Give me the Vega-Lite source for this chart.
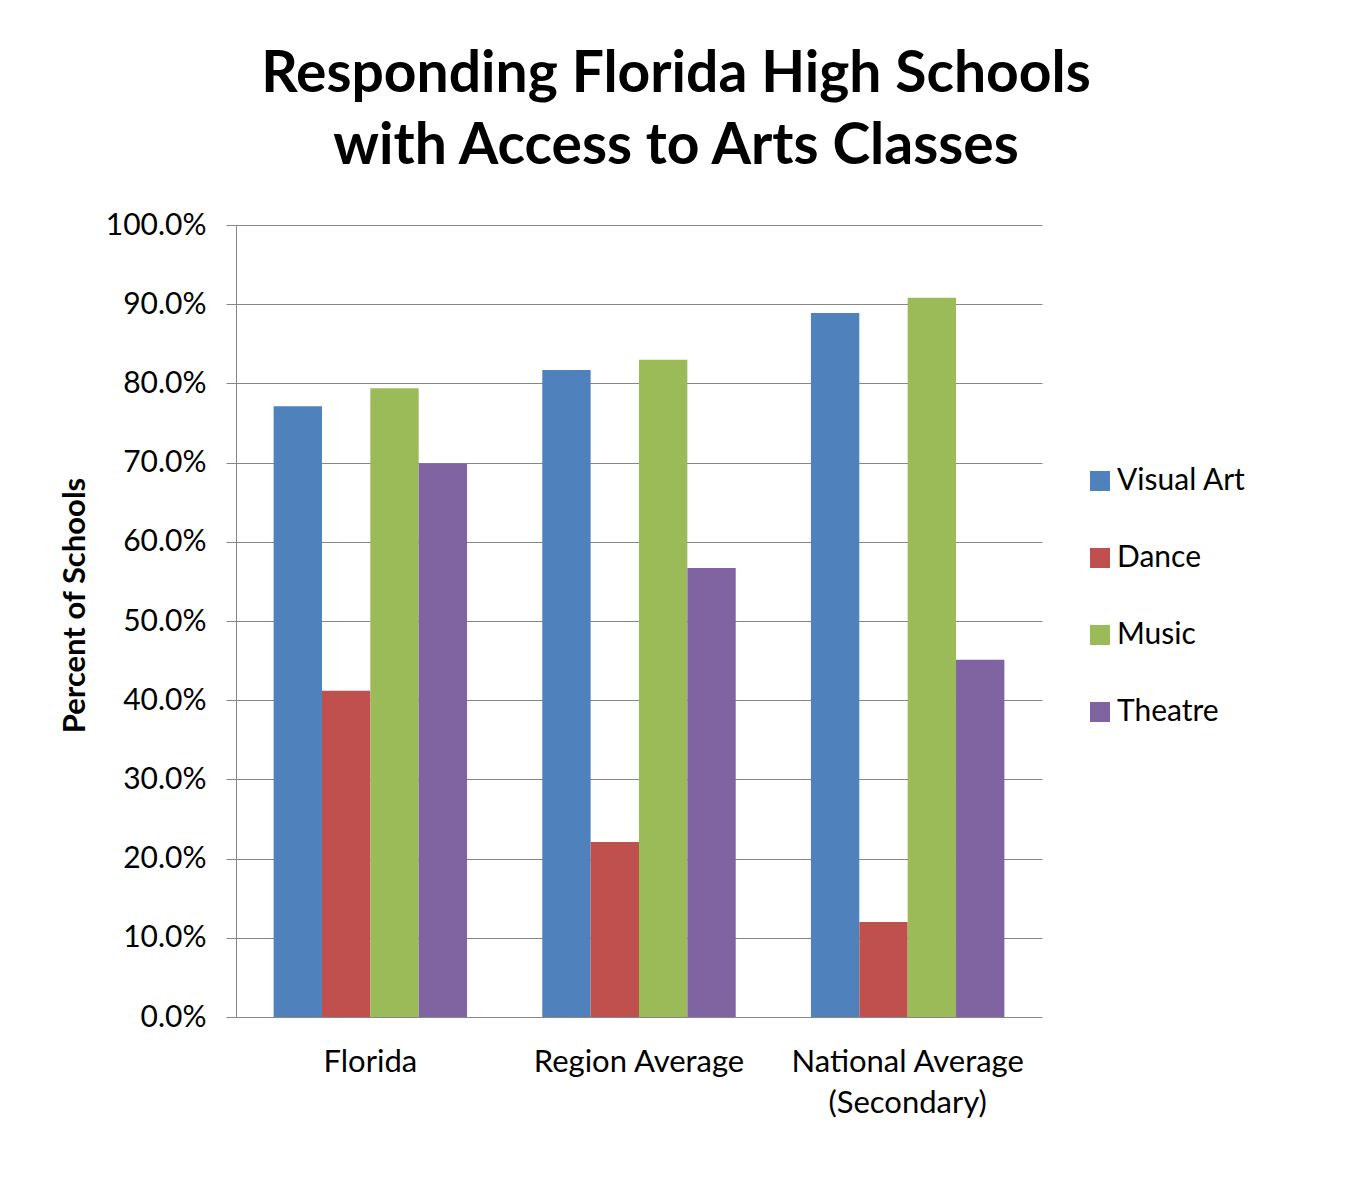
{
  "$schema": "https://vega.github.io/schema/vega-lite/v6.json",
  "width": 806,
  "height": 792,
  "autosize": "none",
  "padding": {"left": 236, "top": 225, "right": 308, "bottom": 167},
  "background": "white",
  "config": {"view": {"stroke": null}, "font": "Lato"},
  "title": {
    "text": ["Responding Florida High Schools", "with Access to Arts Classes"],
    "fontSize": 57,
    "fontWeight": "bold",
    "font": "Lato",
    "color": "black",
    "lineHeight": 72,
    "anchor": "middle",
    "dx": 37,
    "offset": 34
  },
  "data": {
    "values": [
      {"region": "Florida", "subject": "Visual Art", "pct": 0.771},
      {"region": "Florida", "subject": "Dance", "pct": 0.412},
      {"region": "Florida", "subject": "Music", "pct": 0.794},
      {"region": "Florida", "subject": "Theatre", "pct": 0.699},
      {"region": "Region Average", "subject": "Visual Art", "pct": 0.817},
      {"region": "Region Average", "subject": "Dance", "pct": 0.221},
      {"region": "Region Average", "subject": "Music", "pct": 0.830},
      {"region": "Region Average", "subject": "Theatre", "pct": 0.567},
      {"region": "National Average (Secondary)", "subject": "Visual Art", "pct": 0.889},
      {"region": "National Average (Secondary)", "subject": "Dance", "pct": 0.120},
      {"region": "National Average (Secondary)", "subject": "Music", "pct": 0.908},
      {"region": "National Average (Secondary)", "subject": "Theatre", "pct": 0.451}
    ]
  },
  "mark": {"type": "bar"},
  "encoding": {
    "x": {
      "field": "region",
      "type": "nominal",
      "sort": ["Florida", "Region Average", "National Average (Secondary)"],
      "scale": {"paddingInner": 0.28, "paddingOuter": 0.14},
      "axis": {
        "title": null,
        "labelAngle": 0,
        "labelFontSize": 31,
        "labelColor": "black",
        "labelLimit": 0,
        "ticks": false,
        "domain": false,
        "labelPadding": 30,
        "labelLineHeight": 41,
        "labelExpr": "datum.label == 'National Average (Secondary)' ? ['National Average', '(Secondary)'] : datum.label"
      }
    },
    "xOffset": {
      "field": "subject",
      "type": "nominal",
      "sort": ["Visual Art", "Dance", "Music", "Theatre"],
      "scale": {"paddingInner": 0, "paddingOuter": 0}
    },
    "y": {
      "field": "pct",
      "type": "quantitative",
      "scale": {"domain": [0, 1]},
      "axis": {
        "format": ".1%",
        "values": [0, 0.1, 0.2, 0.3, 0.4, 0.5, 0.6, 0.7, 0.8, 0.9, 1.0],
        "title": "Percent of Schools",
        "titleFontSize": 31,
        "titleFontWeight": "bold",
        "titleColor": "black",
        "titlePadding": 14,
        "titleY": 380,
        "labelFontSize": 30,
        "labelColor": "black",
        "labelPadding": 20,
        "gridColor": "#868686",
        "gridOpacity": 1,
        "domainColor": "#868686",
        "tickColor": "#868686",
        "tickSize": 10
      }
    },
    "color": {
      "field": "subject",
      "type": "nominal",
      "scale": {
        "domain": ["Visual Art", "Dance", "Music", "Theatre"],
        "range": ["#4F81BD", "#C0504D", "#9BBB59", "#8064A2"]
      },
      "legend": {
        "title": null,
        "orient": "none",
        "legendX": 849,
        "legendY": 241,
        "symbolType": "square",
        "symbolSize": 400,
        "symbolStrokeWidth": 0,
        "symbolOpacity": 1,
        "labelFontSize": 30,
        "labelColor": "black",
        "labelOffset": 2,
        "rowPadding": 47
      }
    }
  }
}
